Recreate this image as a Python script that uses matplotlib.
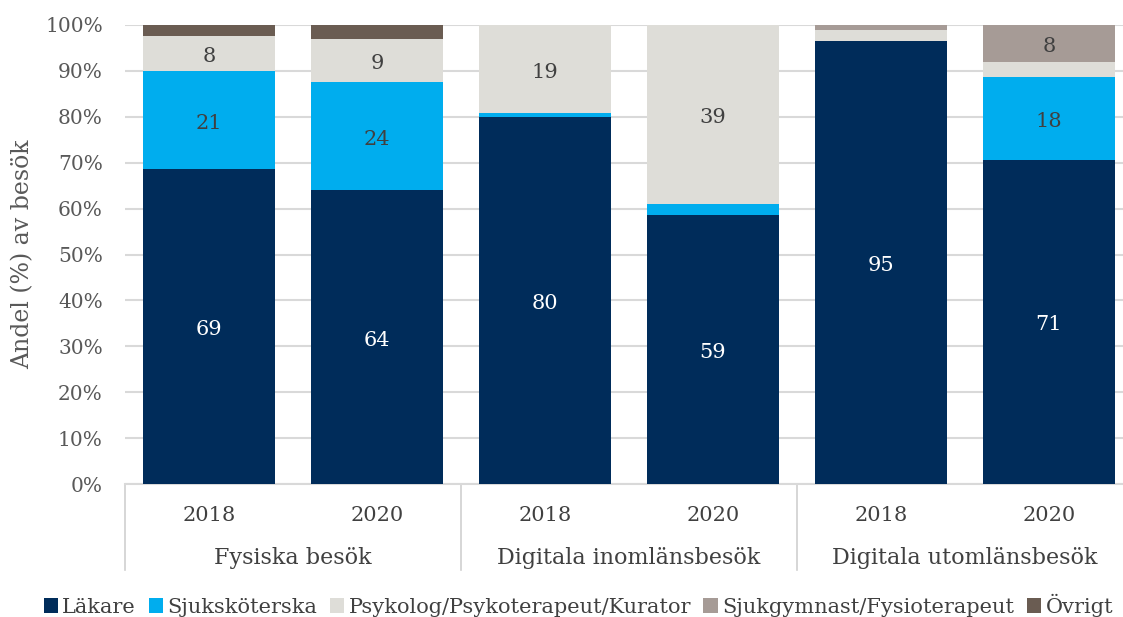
import numpy as np
import matplotlib
matplotlib.use("Agg")
import matplotlib.pyplot as plt
from matplotlib.patches import Patch
import matplotlib.transforms as mtransforms

# Data (values in percent, each bar normalised to 100 %)
groups = ["Fysiska besök", "Digitala inomlänsbesök", "Digitala utomlänsbesök"]
years = ["2018", "2020", "2018", "2020", "2018", "2020"]
categories = ["Läkare", "Sjuksköterska", "Psykolog/Psykoterapeut/Kurator",
              "Sjukgymnast/Fysioterapeut", "Övrigt"]
lakare = [68.6, 64.0, 80.0, 58.6, 95.0, 70.6]
sjukskoterska = [21.4, 23.6, 0.8, 2.4, 0.0, 18.1]
psykolog = [7.6, 9.3, 19.2, 39.0, 2.4, 3.2]
sjukgymnast = [0.0, 0.0, 0.0, 0.1, 1.0, 8.1]
ovrigt = [2.4, 3.1, 0.0, 0.0, 0.0, 0.0]

colors = ["#002C5A", "#00ADEE", "#DEDDD8", "#A69B96", "#6A5C52"]
label_colors = ["white", "#404040", "#404040", "#404040", "#404040"]

plt.rcParams['font.family'] = ['DejaVu Serif']

series = np.array([lakare, sjukskoterska, psykolog, sjukgymnast, ovrigt])
totals = series.sum(axis=0)
shares = series / totals * 100

fig = plt.figure(figsize=(11.23, 6.17), dpi=100)
ax = fig.add_axes([125 / 1123, 1 - 484 / 617, 1008 / 1123, 459 / 617])

x = np.arange(len(years))
bottom = np.zeros(len(years))
# labels sit slightly below the segment centre, as in the original
shift = mtransforms.ScaledTranslation(0, -3 / 100, fig.dpi_scale_trans)
for i, cat in enumerate(categories):
    ax.bar(x, shares[i], 0.786, bottom=bottom, color=colors[i], zorder=3)
    for j in range(len(years)):
        if series[i, j] >= 7.5:
            ax.text(x[j], bottom[j] + shares[i, j] / 2, f"{series[i, j]:.0f}",
                    ha="center", va="center", fontsize=15,
                    color=label_colors[i], zorder=4,
                    transform=ax.transData + shift)
    bottom += shares[i]

ax.set_xlim(-0.5, 5.5)
ax.set_ylim(0, 100)
ax.set_yticks(np.arange(0, 101, 10))
ax.set_yticklabels([f"{v}%" for v in range(0, 101, 10)], fontsize=14.5, color="#595959")
ax.yaxis.grid(True, color="#d9d9d9", linewidth=1.5, zorder=0)
ax.tick_params(axis="y", length=0, pad=16)
ax.set_xticks(x)
ax.set_xticklabels(years, fontsize=15, color="#404040")
ax.tick_params(axis="x", length=0, pad=16)
for s in ["top", "right", "left"]:
    ax.spines[s].set_visible(False)
ax.spines["bottom"].set_color("#d9d9d9")
ax.spines["bottom"].set_linewidth(1.5)

ax.set_ylabel("Andel (%) av besök", fontsize=17, color="#595959", labelpad=8)

# group separators and labels
trans = mtransforms.blended_transform_factory(ax.transData, ax.transAxes)
for k in range(len(groups) + 1):
    ax.plot([k * 2 - 0.5, k * 2 - 0.5], [0, -0.187], transform=trans,
            color="#d0d0d0", linewidth=1.2, clip_on=False)
for k, g in enumerate(groups):
    ax.text(k * 2 + 0.5, -0.162, g, transform=trans, ha="center", va="center",
            fontsize=16, color="#404040")

handles = [Patch(facecolor=c, edgecolor="none") for c in colors]
fig.legend(handles, categories, loc="center", bbox_to_anchor=(0.515, 1 - 605 / 617),
           ncol=5, frameon=False, fontsize=15, handlelength=0.7, handleheight=0.7,
           handletextpad=0.2, columnspacing=0.6, labelcolor="#404040")

fig.savefig("out.png", dpi=100)
